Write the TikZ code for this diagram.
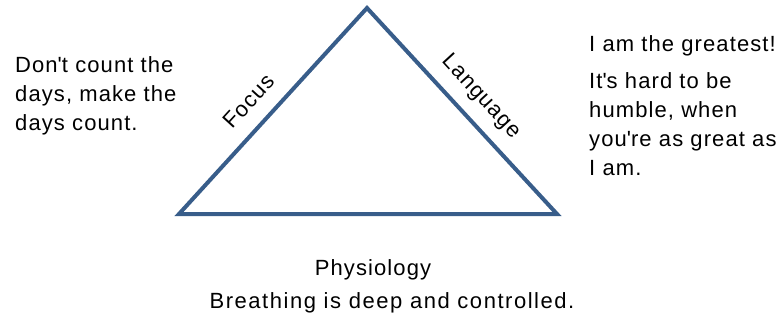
\documentclass[tikz,border=0pt]{standalone}
\usepackage{fontspec}
\setmainfont{Liberation Sans}[LetterSpace=5]
\usetikzlibrary{positioning}

\definecolor{edgeblue}{HTML}{385D8A}

\begin{document}
\begin{tikzpicture}[x=1pt,y=-1pt,
  every node/.style={font=\fontsize{22}{29}\selectfont, inner sep=0pt},
  quote/.style={align=left, anchor=north west}]
\useasboundingbox (0,0) rectangle (780,321);

\coordinate (top) at (367,8);
\coordinate (left) at (179,214);
\coordinate (right) at (557,214);

\draw [edgeblue, line width=4pt, line join=miter] (top) -- (right) -- (left) -- cycle;

\node (focus) at (249,101) [rotate=47.6] {Focus};
\node (language) at (481,97) [rotate=-47.4] {Language};

\node (dontcount) at (15,56) [quote] {Don\textquotesingle t count the\\days, make the\\days count.};
\node (greatest) at (589,52) [anchor=base west] {I am the greatest!};
\node (humble) at (589,72) [quote] {It\textquotesingle s hard to be\\humble, when\\you\textquotesingle re as great as\\I am.};

\node (physio) at (373,275) [anchor=base] {Physiology};
\node (breath) at (392,308) [anchor=base, font=\fontsize{22}{29}\selectfont\addfontfeature{LetterSpace=7}] {Breathing is deep and controlled.};
\end{tikzpicture}
\end{document}
